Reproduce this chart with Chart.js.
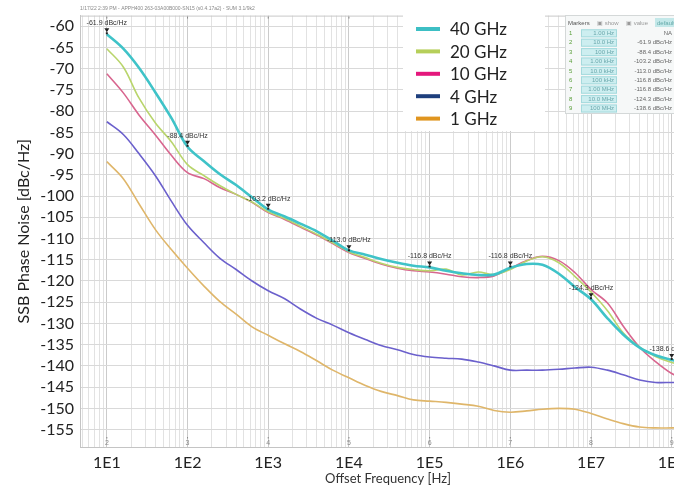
<!DOCTYPE html>
<html>
<head>
<meta charset="utf-8">
<script src="https://cdn.jsdelivr.net/npm/chart.js@4.4.0/dist/chart.umd.min.js"></script>
<style>
  html, body { margin: 0; padding: 0; background: #fff; overflow: hidden; }
  #wrap { width: 702px; height: 487px; }
</style>
</head>
<body>
<div id="wrap"><canvas id="pn" width="702" height="487"></canvas></div>
<script>
// offset frequencies (Hz), roughly 5 points per decade
const freqs = [
  10, 16, 25, 40, 63,
  100, 160, 250, 400, 630,
  1e3, 1.6e3, 2.5e3, 4e3, 6.3e3,
  1e4, 1.6e4, 2.5e4, 4e4, 6.3e4,
  1e5, 1.6e5, 2.5e5, 4e5, 6.3e5,
  1e6, 1.6e6, 2.5e6, 4e6, 6.3e6,
  1e7, 1.6e7, 2.5e7, 4e7, 6.3e7,
  1e8, 1.6e8, 2.5e8
];

const ghz40 = [
  -61.9, -65.3, -69.8, -75.6, -81.6,
  -88.4, -91.8, -94.8, -97.4, -100.3,
  -103.2, -104.8, -106.5, -108.3, -110.5,
  -112.8, -113.8, -114.8, -115.7, -116.4,
  -116.8, -117.6, -118.2, -118.6, -118.5,
  -116.9, -116.0, -116.2, -118.3, -121.4,
  -124.3, -128.8, -132.6, -135.7, -137.5,
  -138.6, -139.6, -140.2
];
const ghz20 = [
  -65.3, -69.6, -76.9, -82.8, -87.2,
  -92.6, -95.2, -97.5, -99.6, -101.4,
  -103.7, -105.3, -107.1, -109.0, -111.0,
  -113.1, -114.5, -115.8, -116.8, -117.3,
  -117.6, -117.2, -118.6, -117.9, -118.5,
  -117.3, -115.3, -114.3, -115.7, -118.9,
  -122.6, -127.0, -132.2, -135.6, -137.8,
  -139.2, -140.0, -140.5
];
const ghz10 = [
  -71.2, -75.7, -80.9, -85.6, -90.4,
  -94.5, -95.9, -98.0, -99.6, -101.5,
  -103.9, -105.5, -107.3, -109.2, -111.2,
  -113.3, -114.7, -116.0, -117.0, -117.6,
  -117.9, -118.4, -119.0, -119.2, -118.8,
  -117.0, -115.2, -114.2, -115.2, -118.0,
  -122.0, -125.2, -130.6, -135.6, -139.0,
  -141.8, -143.6, -144.6
];
const ghz4 = [
  -82.5, -85.5, -90.0, -95.2, -101.2,
  -106.9, -111.0, -114.6, -117.3, -120.0,
  -122.3, -124.2, -126.6, -128.8, -130.4,
  -132.2, -133.8, -135.2, -136.2, -137.3,
  -137.9, -138.2, -138.4, -139.1, -140.0,
  -141.0, -141.0, -141.0, -140.8, -140.5,
  -140.3, -141.0, -142.1, -143.3, -143.9,
  -143.9, -143.9, -143.9
];
const ghz1 = [
  -91.9, -95.9, -101.8, -107.9, -112.6,
  -117.0, -121.2, -124.8, -127.8, -130.8,
  -132.8, -134.8, -136.6, -138.8, -141.0,
  -142.8, -144.6, -146.0, -147.0, -148.0,
  -148.3, -148.6, -149.0, -149.5, -150.5,
  -150.9, -150.6, -150.2, -150.0, -150.2,
  -151.2, -152.5, -153.6, -154.4, -154.6,
  -154.6, -154.6, -154.6
];

const seriesNames = ['40 GHz', '20 GHz', '10 GHz', '4 GHz', '1 GHz'];
const seriesVals = [ghz40, ghz20, ghz10, ghz4, ghz1];
const lineColors = ['#3fc3c8', '#b9d56c', '#d8668f', '#6b60cc', '#dfb66a'];
const legendColors = ['#3dbfc4', '#b6cf5a', '#e4177c', '#1e3f7d', '#e0951f'];

const yTicks = [-60, -65, -70, -75, -80, -85, -90, -95, -100, -105, -110,
                -115, -120, -125, -130, -135, -140, -145, -150, -155];

// instrument markers (on the 40 GHz trace)
const markerFreqs = [10, 100, 1e3, 1e4, 1e5, 1e6, 1e7, 1e8];
const markerVals = [-61.9, -88.4, -103.2, -113.0, -116.8, -116.8, -124.3, -138.6];
const tableFreqs = ['1.00 Hz', '10.0 Hz', '100 Hz', '1.00 kHz', '10.0 kHz',
                    '100 kHz', '1.00 MHz', '10.0 MHz', '100 MHz'];

const xTitle = 'Offset Frequency [Hz]';
const yTitle = 'SSB Phase Noise [dBc/Hz]';
const header = '1/17/22 2:39 PM - APPH400 263-03A00B000-SN15 (s0.4.17a2) - SUM 3.1/9k2';

const X_MIN = 4.65, X_MAX = 2e8;

function isDecade(v) {
    const l = Math.log10(v);
    return Math.abs(l - Math.round(l)) < 1e-9;
}

const gridFreqs = [];
for (let e = 0; e <= 8; e++) {
    for (let m = 1; m <= 9; m++) {
        const f = m * Math.pow(10, e);
        if (f >= X_MIN && f <= X_MAX) gridFreqs.push(f);
    }
}

const overlay = {
    id: 'overlay',
    afterDatasetsDraw(chart) {
        const { ctx, chartArea: a, scales: { x, y } } = chart;
        ctx.save();

        // top frame line + header text
        ctx.strokeStyle = '#c8c8c8';
        ctx.lineWidth = 1;
        ctx.beginPath();
        ctx.moveTo(a.left, a.top + 0.5);
        ctx.lineTo(a.right, a.top + 0.5);
        ctx.stroke();
        ctx.font = '5px "Liberation Sans"';
        ctx.fillStyle = '#888';
        ctx.textAlign = 'left';
        ctx.textBaseline = 'middle';
        ctx.fillText(header, a.left, 9);

        // decade index numbers
        ctx.textAlign = 'center';
        markerFreqs.forEach((f, i) => {
            const px = x.getPixelForValue(f);
            ctx.fillStyle = '#888';
            ctx.font = '7px "Liberation Sans"';
            ctx.fillText(String(i + 2), px, a.bottom - 4);
            ctx.fillRect(px - 0.5, a.bottom - 10, 1, 1.5);
            ctx.fillRect(px - 0.5, a.top + 1, 1, 2);
        });

        // marker pins + labels
        markerFreqs.forEach((f, i) => {
            const px = x.getPixelForValue(f);
            const py = y.getPixelForValue(markerVals[i]);
            ctx.fillStyle = '#222';
            ctx.beginPath();
            ctx.moveTo(px - 2.5, py - 6);
            ctx.lineTo(px + 2.5, py - 6);
            ctx.lineTo(px, py - 2);
            ctx.closePath();
            ctx.fill();
            ctx.fillRect(px - 1, py - 2, 2, 2);
            ctx.font = '7px "Liberation Sans"';
            ctx.fillStyle = '#333';
            ctx.fillText(markerVals[i].toFixed(1) + ' dBc/Hz', px, py - 11);
        });

        // legend box
        ctx.fillStyle = '#fff';
        ctx.fillRect(403, 14, 142, 117);
        seriesNames.forEach((n, i) => {
            const ly = 29 + i * 22.4;
            ctx.strokeStyle = legendColors[i];
            ctx.lineWidth = 4;
            ctx.beginPath();
            ctx.moveTo(416, ly);
            ctx.lineTo(440, ly);
            ctx.stroke();
            ctx.fillStyle = '#222';
            ctx.font = '17px Lato';
            ctx.textAlign = 'left';
            ctx.fillText(n, 450, ly + 1);
        });

        // marker table
        ctx.fillStyle = '#f6f8f8';
        ctx.fillRect(565, 15, 140, 98);
        ctx.strokeStyle = '#d4d8d8';
        ctx.lineWidth = 1;
        ctx.strokeRect(565.5, 15.5, 140, 98);
        ctx.font = '6px "Liberation Sans"';
        ctx.textAlign = 'left';
        ctx.fillStyle = '#555';
        ctx.fillText('Markers', 568, 23);
        ctx.fillStyle = '#9a9a9a';
        ctx.fillText('\u25a3 show', 597, 23);
        ctx.fillText('\u25a3 value', 626, 23);
        ctx.fillStyle = '#c3e8e9';
        ctx.fillRect(655, 18, 40, 9);
        ctx.fillStyle = '#6aa';
        ctx.fillText('default', 657, 23);
        tableFreqs.forEach((t, i) => {
            const ry = 33.3 + i * 9.4;
            ctx.textAlign = 'left';
            ctx.fillStyle = '#5a9e3a';
            ctx.fillText(String(i + 1), 569, ry);
            ctx.fillStyle = '#cdeef0';
            ctx.fillRect(581, ry - 4, 36, 8);
            ctx.strokeStyle = '#a5dadd';
            ctx.strokeRect(581.5, ry - 3.5, 35, 7);
            ctx.textAlign = 'right';
            ctx.fillStyle = '#69a7ab';
            ctx.fillText(t, 614, ry);
            ctx.fillStyle = '#666';
            ctx.fillText(i === 0 ? 'NA' : markerVals[i - 1].toFixed(1) + ' dBc/Hz', 672, ry);
        });

        ctx.restore();
    }
};

new Chart(document.getElementById('pn'), {
    type: 'line',
    data: {
        datasets: seriesNames.map((name, i) => ({
            label: name,
            data: freqs.map((f, j) => ({ x: f, y: seriesVals[i][j] })),
            borderColor: lineColors[i],
            borderWidth: i === 0 ? 2.6 : 1.6,
            pointRadius: 0,
            tension: 0.35,
            fill: false
        }))
    },
    options: {
        responsive: false,
        animation: false,
        layout: { padding: { top: 12, right: 2, left: 0, bottom: 0 } },
        plugins: {
            legend: { display: false },
            tooltip: { enabled: false }
        },
        scales: {
            x: {
                type: 'logarithmic',
                min: X_MIN,
                max: X_MAX,
                afterBuildTicks: s => { s.ticks = gridFreqs.map(v => ({ value: v })); },
                afterFit: s => { s.height = 40; },
                grid: {
                    color: c => (c.tick && isDecade(c.tick.value)) ? '#cbcbcb' : '#e2e2e2',
                    drawTicks: false
                },
                border: { color: '#c4c4c4' },
                ticks: {
                    autoSkip: false,
                    maxRotation: 0,
                    padding: 6,
                    color: '#222',
                    font: { family: 'Lato', size: 16 },
                    callback: v => isDecade(v) ? '1E' + Math.round(Math.log10(v)) : ''
                },
                title: {
                    display: true,
                    text: xTitle,
                    color: '#333',
                    font: { family: 'Lato', size: 13 },
                    padding: { top: 0, bottom: 0 }
                }
            },
            y: {
                min: -159.1,
                max: -57.5,
                afterBuildTicks: s => { s.ticks = yTicks.map(v => ({ value: v })); },
                afterFit: s => { s.width = 80; },
                grid: { color: '#d9d9d9', drawTicks: false },
                border: { color: '#c4c4c4' },
                ticks: {
                    padding: 6,
                    color: '#222',
                    font: { family: 'Lato', size: 16 }
                },
                title: {
                    display: true,
                    text: yTitle,
                    color: '#222',
                    font: { family: 'Lato', size: 16 },
                    padding: { top: 14, bottom: 0 }
                }
            }
        }
    },
    plugins: [overlay]
});
</script>
</body>
</html>
